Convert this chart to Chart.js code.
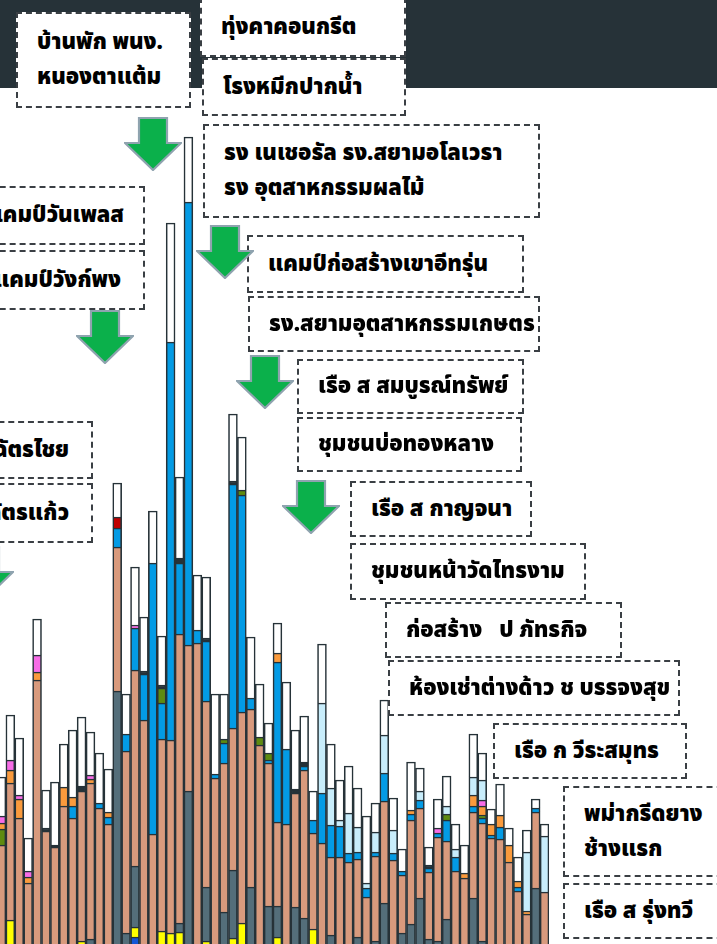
<!DOCTYPE html>
<html>
<head>
<meta charset="utf-8">
<script src="https://cdn.jsdelivr.net/npm/chart.js@4.4.1/dist/chart.umd.min.js"></script>
<style>
  html,body{margin:0;padding:0;background:#fff;}
  body{width:717px;height:944px;overflow:hidden;position:relative;font-family:"Noto Sans Thai","Noto Sans","DejaVu Sans",sans-serif;}
  #header{position:absolute;left:0;top:0;width:717px;height:88px;background:#263238;}
  #wrap{position:absolute;left:-3.15px;top:0;width:552px;height:944px;}
  .box{position:absolute;box-sizing:border-box;background:#fff;border:2px dashed #3a3f44;
       display:flex;flex-direction:column;justify-content:center;padding-left:19px;
       font-weight:900;font-size:22px;color:#000;white-space:pre;line-height:35px;}
  .box.r{align-items:flex-end;padding-left:0;}
  .arrow{position:absolute;width:58px;height:54px;}
</style>
</head>
<body>
<div id="header"></div>
<div id="wrap"><canvas id="c" width="552" height="944"></canvas></div>
<div id="notes"></div>
<script>
/* ════════════════════════════════════
   DATA  (one entry per bar, left → right; unit = 10 px of the original)
════════════════════════════════════ */
const categories=[-1,0,1,2,3,4,5,6,7,8,9,10,11,12,13,14,15,16,17,18,19,20,21,22,23,24,25,26,27,28,29,
  30,31,32,33,34,35,36,37,38,39,40,41,42,43,44,45,46,47,48,49,50,51,52,53,54,55,56,57,58,59,60];

const deepBlue=[0,
  0,0,0,0,0,0,0,0,0,0,
  0,0,0,0,6.3,0,0,0,0,0,
  0,0,0,0,0,0,0,0,0,0,
  0,0,0,0,0,0,0,0,0,0,
  0,0,0,0,0,0,0,0,0,0,
  0,0,0,0,0,0,0,0,0,0,
  0];
const yellow=[0,
  8.0,0,0,0,0,0,0,0,5.9,0,
  0,0,0,0,1.0,0,0,6.9,6.7,6.8,
  0,0,5.9,0,0,6.2,7.7,0,0,0,
  6.3,0,0,0,7.1,0,0,0,0,0,
  0,0,0,0,0,0,0,0,0,0,
  0,0,0,0,0,0,0,0,0,0,
  0];
const slate=[0,
  0,0,0,0,0,0,0,0,0,6.1,
  0,0,30.9,6.7,6.1,0,0,0,0,0.9,
  20.9,0,5.4,0,8.8,6.8,0,11.3,0,9.4,
  3.1,0,9.3,8.2,0,0,6.5,0,0,6.3,
  0,5.9,9.7,0,6.7,7.6,10.2,6.1,5.9,8.1,
  0,0,10.2,5.9,0,0,0,0,0,11.2,
  0];
const salmon=[15.5,
  13.7,18.2,11.7,32.0,16.9,15.3,19.4,18.2,15.0,15.6,
  19.2,17.6,14.4,18.2,19.6,28.0,16.6,19.2,19.3,28.9,
  14.6,35.7,18.6,22.2,14.9,14.2,21.1,17.8,25.5,14.3,
  8.4,17.6,11.4,14.8,9.6,15.7,7.8,14.3,13.8,7.8,
  10.3,8.5,10.2,14.0,5.8,10.4,9.0,6.7,10.4,7.8,
  12.9,12.2,8.6,11.8,16.2,16.1,13.8,10.9,8.6,7.6,
  10.8];
const blue=[0,
  0,0,0,0,0,0,0,1.2,0,0,
  0.5,0.7,1.9,1.7,4.2,4.6,27.1,3.6,39.8,7.1,
  44.3,1.3,6.0,0.4,2.0,24.4,21.7,1.1,0,0.3,
  16.0,7.5,0,0.4,1.3,5.0,3.2,3.1,0.9,0.7,
  0.9,0.4,2.8,0.7,0.4,0.6,0.8,0.4,0.4,2.1,
  1.4,0,0.6,0.5,0.3,1.2,0,0.4,0,0.4,
  0];
const green=[1.6,
  0,0,0,0,0,0,0,0,0,0,
  0,0,0,0,0,0,0,1.5,0,0,
  0,0,0,0,0.4,0,0.5,0,0.8,0.7,
  0,0,0,0,0,0,0,0,0,0,
  0,0,0,0,0,0,0,0,0,0.6,
  0,0,0,0.3,0,0,0,0,0,0,
  0];
const orange=[0.6,
  1.3,1.9,0.6,0.8,0,0,1.9,0.9,0,0.4,
  0,0.5,0,0,0,0,0,0,0,0,
  0,0,0,0,0,0,0,0,0,0,
  0.9,0,0,0,0,0,0,0,0,0,
  0,0,0,0,0,0.4,0,0,0,0,
  0,0.5,1.1,0.9,1.1,1.2,1.7,0.6,0.3,0,
  0];
const pink=[0.7,
  1.0,0.4,0.6,1.7,0,0,0,0,0,0.4,
  0,0,0,0,0.3,0,0,0,0,0,
  0,0,0,0,0,0,0,0,0,0,
  0,0,0,0,0,0,0,0,0,0,
  0,0,0,0,0,0,0,0,0.5,0,
  0,0,0,0.6,0,0,0,0,0,0,
  0];
const red=[0,
  0,0,0,0,0,0,0,0,0,0,
  0,0,1.1,0,0,0,0,0,0,0,
  0,0,0,0,0,0,0,0,0,0,
  0,0,0,0,0,0,0,0,0,0,
  0,0,0,0,0,0,0,0,0,0,
  0,0,0,0,0,0,0,0,0,0,
  0];
const lightBlue=[0,
  0,0,0,0,0,0,0,0,0,0,
  0,0,0,0,0,0,0,0,0,0,
  0,0,0,0,0,0,0,0,0,0,
  0,0,0,0,0,9.0,3.7,0.6,4.0,2.5,
  0.5,2.0,3.8,2.3,0,0,0.9,0,0,0.8,
  0.8,0,1.8,2.0,0,0,0,0,5.9,0,
  5.6];
const dark=[0,
  0,0,0,0,0.3,0.2,0,0,0.5,0,
  0,0,0,0,0,0.3,0,0.3,0,0.5,
  0,0,0.3,0,0,0.3,0,0,0,0,
  0,0,0.4,0.4,0,0,0,0,0,0,
  0,0,0,0,0,0,0,0.3,0,0,
  0,0,0,0,0,0,0,0,0,0,
  0];
const white=[3.9,
  4.5,5.7,3.3,3.6,3.8,6.3,4.3,6.7,6.9,4.3,
  5.0,4.3,3.4,4.0,5.8,5.4,5.2,4.9,11.9,8.1,
  6.5,5.5,6.1,8.0,4.5,6.7,5.3,6.1,5.3,3.0,
  3.0,6.7,5.9,4.6,2.9,5.9,4.4,4.0,4.7,3.9,
  6.7,2.9,3.5,3.2,2.2,4.8,2.3,1.8,2.9,3.0,
  2.5,2.8,4.3,2.7,1.5,3.1,1.7,2.4,2.2,0.9,
  1.2];

/* annotations */
const noteText=[
  ['บ้านพัก พนง.','หนองตาแต้ม'],['ทุ่งคาคอนกรีต'],['โรงหมีกปากน้ำ'],
  ['รง เนเชอรัล รง.สยามอโลเวรา','รง อุตสาหกรรมผลไม้'],['แคมป์วันเพลส'],['แคมป์วังก์พง'],
  ['แคมป์ก่อสร้างเขาอีทรุ่น'],['รง.สยามอุตสาหกรรมเกษตร'],['เรือ ส สมบูรณ์ทรัพย์'],['ชุมชนบ่อทองหลาง'],
  ['ฉัตรไชย'],['ฉัตรแก้ว'],['เรือ ส กาญจนา'],['ชุมชนหน้าวัดไทรงาม'],['ก่อสร้าง   ป ภัทรกิจ'],
  ['ห้องเช่าต่างด้าว ช บรรจงสุข'],['เรือ ก วีระสมุทร'],['พม่ากรีดยาง','ช้างแรก'],['เรือ ส รุ่งทวี']
];
// [left, top, width, height, right-aligned pad]
const noteBox=[
  [16,12,175,96],[200,-3,206,60],[202,58,204,58],
  [203,124,337,94],[-60,186,205,59,19],[-60,250,205,60,22],
  [247,235,277,58],[248,296,292,56],[297,359,227,55],[297,417,225,55],
  [-100,421,193,58,22],[-100,483,193,60,22],[350,481,182,56],[350,543,236,57],[385,602,237,56],
  [388,660,292,56],[493,723,194,56],[563,786,170,91],[563,883,170,56]
];
const arrowPos=[[124,117],[196,225],[76,310],[236,355],[282,480],[-44,546]];

/* ════════════════════════════════════
   CHART
════════════════════════════════════ */
const SERIES=[
  {label:'deepBlue',data:deepBlue,c:'#1456D6'},
  {label:'yellow',data:yellow,c:'#FFFF00'},
  {label:'slate',data:slate,c:'#546E7A'},
  {label:'salmon',data:salmon,c:'#D89A7D'},
  {label:'blue',data:blue,c:'#039BE5'},
  {label:'green',data:green,c:'#5E8B10'},
  {label:'orange',data:orange,c:'#FA9A3C'},
  {label:'pink',data:pink,c:'#F76CE6'},
  {label:'red',data:red,c:'#C00000'},
  {label:'lightBlue',data:lightBlue,c:'#C8EDFB'},
  {label:'dark',data:dark,c:'#263238'},
  {label:'white',data:white,c:'#FFFFFF'}
];

new Chart(document.getElementById('c'),{
  type:'bar',
  data:{
    labels:categories,
    datasets:SERIES.map(s=>({label:s.label,data:s.data,backgroundColor:s.c,
      borderColor:'#263238',borderWidth:1.6,borderSkipped:'start',
      barPercentage:1,categoryPercentage:1}))
  },
  options:{
    responsive:false,animation:false,
    layout:{padding:0},
    plugins:{legend:{display:false},tooltip:{enabled:false}},
    scales:{
      x:{stacked:true,display:false},
      y:{stacked:true,display:false,min:5.6,max:100}
    }
  }
});

/* boxes + arrows */
const notes=document.getElementById('notes');
noteBox.forEach((b,i)=>{
  const d=document.createElement('div');
  d.className='box'+(b[4]?' r':'');
  d.style.cssText+=`left:${b[0]}px;top:${b[1]}px;width:${b[2]}px;height:${b[3]}px;`+(b[4]?`padding-right:${b[4]}px;`:'');
  noteText[i].forEach(t=>{const s=document.createElement('div');s.textContent=t;d.appendChild(s);});
  notes.appendChild(d);
});
arrowPos.forEach(p=>{
  const s=document.createElementNS('http://www.w3.org/2000/svg','svg');
  s.setAttribute('class','arrow');s.setAttribute('viewBox','0 0 58 54');
  s.style.left=p[0]+'px';s.style.top=p[1]+'px';
  s.innerHTML='<polygon points="15,1 43,1 43,26 57,26 29,53 1,26 15,26" fill="#0BB04B" stroke="#8FA3AF" stroke-width="2.2" stroke-linejoin="miter"/>';
  notes.appendChild(s);
});
</script>
</body>
</html>
